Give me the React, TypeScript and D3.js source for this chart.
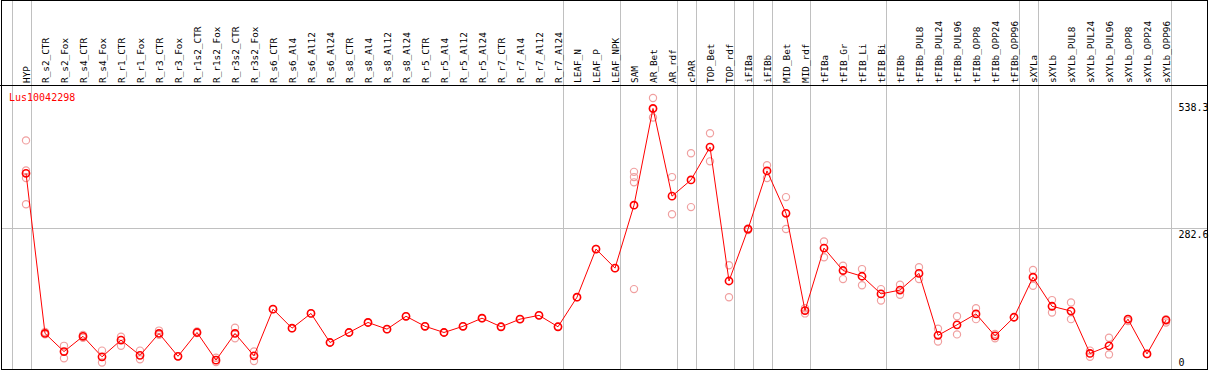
import React, { useEffect, useRef } from 'react';
import * as d3 from 'd3';

const geneName = 'Lus10042298';

const samples = [
  'HYP', 'R_s2_CTR', 'R_s2_Fox', 'R_s4_CTR', 'R_s4_Fox', 'R_r1_CTR', 'R_r1_Fox', 'R_r3_CTR', 'R_r3_Fox',
  'R_r1s2_CTR', 'R_r1s2_Fox', 'R_r3s2_CTR', 'R_r3s2_Fox', 'R_s6_CTR', 'R_s6_Al4', 'R_s6_Al12', 'R_s6_Al24',
  'R_s8_CTR', 'R_s8_Al4', 'R_s8_Al12', 'R_s8_Al24', 'R_r5_CTR', 'R_r5_Al4', 'R_r5_Al12', 'R_r5_Al24',
  'R_r7_CTR', 'R_r7_Al4', 'R_r7_Al12', 'R_r7_Al24', 'LEAF_N', 'LEAF_P', 'LEAF_NPK', 'SAM', 'AR_Bet', 'AR_rdf',
  'cPAR', 'TOP_Bet', 'TOP_rdf', 'iFIBa', 'iFIBb', 'MID_Bet', 'MID_rdf', 'tFIBa', 'tFIB_Gr', 'tFIB_Li', 'tFIB_Bi',
  'tFIBb', 'tFIBb_PUL8', 'tFIBb_PUL24', 'tFIBb_PUL96', 'tFIBb_OPP8', 'tFIBb_OPP24', 'tFIBb_OPP96',
  'sXYLa', 'sXYLb', 'sXYLb_PUL8', 'sXYLb_PUL24', 'sXYLb_PUL96', 'sXYLb_OPP8', 'sXYLb_OPP24', 'sXYLb_OPP96',
];

// index of the last sample in each group (a grey line follows it)
const groupEnds = [-1, 0, 28, 31, 34, 35, 37, 38, 39, 41, 45, 52, 53, 60];

const means = [
  398, 62, 24, 56, 13, 48, 16, 62, 14,
  64, 6, 62, 15, 113, 73, 104, 43,
  64, 85, 71, 98, 77, 64, 77, 94,
  76, 92, 100, 76, 138, 239, 199, 331, 534, 350,
  384, 453, 172, 281, 403, 314, 110, 241, 194, 182, 145,
  153, 188, 58, 80, 103, 57, 96,
  180, 119, 109, 20, 36, 92, 19, 90,
];

const replicates = [
  [467, 404, 388, 333], [60, 65], [36, 10], [59, 53], [26, 1], [55, 36], [26, 8], [68, 59], [14],
  [66, 63], [11, 2], [74, 52], [24, 4], [113], [73], [104], [43],
  [64], [85], [71], [98], [77], [64], [77], [94],
  [76], [92], [100], [76], [138], [239], [199], [401, 390, 379, 155], [556, 515, 533], [390, 312],
  [440, 327], [482, 423], [205, 138], [282, 279], [415, 388], [348, 281], [115, 104], [255, 222], [204, 176], [197, 163], [155, 131],
  [164, 143], [201, 176], [72, 45], [98, 60], [115, 92], [61, 52], [96],
  [195, 162], [132, 106], [127, 92], [26, 13], [53, 18], [92, 88], [19], [85, 92],
];

const yTicks = [0, 282.6, 538.3];

export default function App() {
  const ref = useRef<SVGSVGElement>(null);

  useEffect(() => {
    const W = 1209, H = 370;
    const svg = d3.select(ref.current);
    svg.selectAll('*').remove();

    const x = d3.scaleLinear().domain([0, 1]).range([26, 45]);
    const y = d3.scaleLinear().domain([0, 538.3]).range([363, 106.4]);
    const mono = 'DejaVu Sans Mono, monospace';

    svg.append('rect').attr('width', W).attr('height', H).attr('fill', '#fff');

    // grey group separators
    svg.selectAll('.sep')
      .data(groupEnds)
      .enter().append('line')
      .attr('x1', d => Math.round(x(d) + 4.5) + 0.5)
      .attr('x2', d => Math.round(x(d) + 4.5) + 0.5)
      .attr('y1', 0).attr('y2', H)
      .attr('stroke', '#c0c0c0');

    // horizontal grey line
    svg.append('line')
      .attr('x1', 1).attr('x2', 1207)
      .attr('y1', Math.round(y(282.6)) + 0.5).attr('y2', Math.round(y(282.6)) + 0.5)
      .attr('stroke', '#c0c0c0');

    // sample labels
    svg.selectAll('.lab')
      .data(samples)
      .enter().append('text')
      .attr('transform', (d, i) => `translate(${x(i) + 3.5},83) rotate(-90)`)
      .attr('font-family', mono)
      .attr('font-size', 9.4)
      .attr('fill', '#000')
      .text(d => d);

    // header line
    svg.append('line')
      .attr('x1', 0).attr('x2', 1208)
      .attr('y1', 85.5).attr('y2', 85.5)
      .attr('stroke', '#000');

    svg.append('text')
      .attr('x', 9).attr('y', 100.5)
      .attr('font-family', mono).attr('font-size', 10)
      .attr('fill', '#ff0000')
      .text(geneName);

    // y labels
    const yLabPos = [365.5, 237.5, 110.5];
    svg.selectAll('.ylab')
      .data(yTicks)
      .enter().append('text')
      .attr('x', 1178.5)
      .attr('y', (d, i) => yLabPos[i])
      .attr('font-family', mono).attr('font-size', 10)
      .attr('fill', '#000')
      .text(d => (d === 0 ? '0' : d.toFixed(1)));

    // replicate points
    const reps = replicates.flatMap((r, i) => r.map(v => ({ i, v })));
    svg.selectAll('.rep')
      .data(reps)
      .enter().append('circle')
      .attr('cx', d => x(d.i))
      .attr('cy', d => y(d.v))
      .attr('r', 3.6)
      .attr('fill', 'none')
      .attr('stroke', '#f0a0a0')
      .attr('stroke-width', 1.2);

    // mean line
    const line = d3.line<number>()
      .x((d, i) => x(i))
      .y(d => y(d));
    svg.append('path')
      .datum(means)
      .attr('d', line)
      .attr('fill', 'none')
      .attr('stroke', '#ff0000')
      .attr('stroke-width', 1);

    svg.selectAll('.mean')
      .data(means)
      .enter().append('circle')
      .attr('cx', (d, i) => x(i))
      .attr('cy', d => y(d))
      .attr('r', 3.6)
      .attr('fill', 'none')
      .attr('stroke', '#ff0000')
      .attr('stroke-width', 1.6);

    // frame
    svg.append('rect')
      .attr('x', 1.5).attr('y', 0.5)
      .attr('width', 1206).attr('height', 369)
      .attr('fill', 'none')
      .attr('stroke', '#000');
  }, []);

  return (
    <svg ref={ref} width={1209} height={370}
      style={{ position: 'absolute', left: 0, top: 0, display: 'block' }} />
  );
}
